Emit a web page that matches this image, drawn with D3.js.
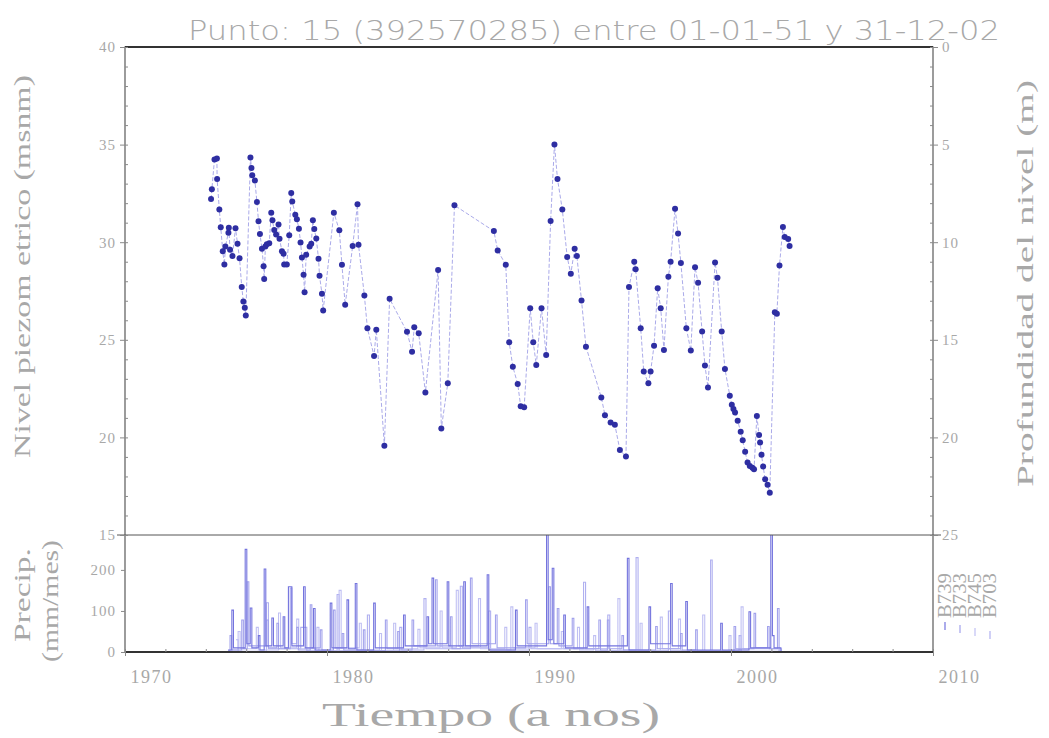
<!DOCTYPE html>
<html>
<head>
<meta charset="utf-8">
<script src="https://cdn.jsdelivr.net/npm/d3@7"></script>
<style>
body{margin:0;background:#fff;}
text{font-family:"Liberation Serif",serif;fill:#a8a8a8;}
.titulo{font-family:"DejaVu Sans",sans-serif;font-weight:200;}
</style>
</head>
<body>
<div class="grafico"></div>
<script>
// nivel piezometrico: fecha (anio decimal) y nivel (msnm)
var anios = [1974.26,1974.30,1974.43,1974.55,1974.56,1974.67,1974.74,1974.84,1974.92,1974.97,
	1975.12,1975.14,1975.20,1975.32,1975.47,1975.57,1975.67,1975.78,1975.86,1975.93,1975.98,
	1976.21,1976.26,1976.30,1976.43,1976.53,1976.61,1976.68,1976.78,1976.86,1976.89,1976.95,
	1977.02,1977.14,1977.24,1977.30,1977.39,1977.48,1977.60,1977.65,1977.77,1977.85,1977.88,
	1978.01,1978.13,1978.23,1978.28,1978.43,1978.51,1978.61,1978.69,1978.76,1978.84,1978.89,1978.97,
	1979.14,1979.22,1979.30,1979.37,1979.47,1979.58,1979.63,1979.75,1979.81,
	1980.34,1980.61,1980.74,1980.90,1981.27,1981.51,1981.56,1981.85,1982.00,1982.33,1982.44,1982.84,
	1983.10,1983.96,1984.21,1984.32,1984.54,1984.87,1985.50,1985.66,1985.98,1986.31,
	1988.26,1988.45,1988.85,1989.02,1989.20,1989.44,1989.59,1989.76,
	1990.06,1990.21,1990.36,1990.62,1990.85,1991.07,1991.26,1991.41,1991.65,1991.89,
	1992.07,1992.26,1992.37,1992.60,1992.82,1993.58,1993.76,1994.04,1994.25,1994.50,1994.80,1994.95,
	1995.21,1995.28,1995.53,1995.68,1995.91,1996.02,1996.19,1996.37,1996.52,1996.68,1996.90,
	1997.01,1997.23,1997.38,1997.52,1997.79,1998.01,1998.22,1998.37,1998.57,1998.71,1998.86,
	1999.21,1999.33,1999.54,1999.70,1999.94,2000.04,2000.12,2000.20,2000.33,2000.48,2000.58,2000.70,2000.82,2000.93,
	2001.06,2001.14,2001.28,2001.39,2001.44,2001.51,2001.59,2001.69,2001.81,2001.92,
	2002.17,2002.27,2002.40,2002.57,2002.66,2002.83,2002.90];
var niveles = [32.21,32.71,34.24,34.29,33.24,31.67,30.76,29.53,28.86,29.78,
	30.49,30.74,29.61,29.29,30.72,29.92,29.18,27.70,26.96,26.64,26.24,
	34.34,33.80,33.43,33.16,32.06,31.07,30.42,29.67,28.77,28.11,29.78,
	29.89,29.95,31.51,31.12,30.62,30.39,30.91,30.18,29.53,29.41,28.86,
	28.86,30.35,32.52,32.09,31.41,31.17,30.69,29.99,29.22,28.33,27.44,29.36,
	29.78,29.92,31.12,30.67,30.19,29.15,28.28,27.36,26.50,
	31.51,30.61,28.84,26.79,29.80,31.94,29.87,27.27,25.59,24.17,25.52,19.57,
	27.10,25.41,24.39,25.64,25.33,22.30,28.57,20.46,22.77,31.89,
	30.57,29.58,28.84,24.87,23.62,22.74,21.59,21.54,
	26.62,24.87,23.71,26.62,24.22,31.08,35.01,33.24,31.67,29.24,
	28.38,29.67,29.29,27.01,24.65,22.05,21.14,20.76,20.65,19.35,19.02,27.70,
	29.00,28.62,25.59,23.38,22.77,23.38,24.70,27.64,26.62,24.48,28.23,
	29.00,31.72,30.44,28.93,25.59,24.45,28.72,27.92,25.42,23.68,22.56,
	28.96,28.18,25.42,23.51,22.14,21.67,21.45,21.28,20.85,20.29,19.86,19.26,18.71,18.54,
	18.45,18.37,21.09,20.12,19.74,19.11,18.51,17.86,17.57,17.17,
	26.41,26.33,28.81,30.78,30.26,30.16,29.80];

// precipitacion mensual (mm/mes) por estacion: [anio, valor] escalonado
var b739 = [[1975.10,5],[1975.29,102],[1975.37,10],[1975.95,250],[1976.03,20],[1976.20,107],[1976.28,10],
	[1976.60,40],[1976.68,5],[1976.89,202],[1976.97,15],[1977.27,83],[1977.35,15],[1977.83,86],[1977.91,10],
	[1978.09,159],[1978.26,15],[1978.84,159],[1978.92,10],[1979.33,106],[1979.41,5],[1980.16,119],[1980.24,10],
	[1980.99,127],[1981.07,8],[1981.40,167],[1981.48,5],[1982.31,119],[1982.39,10],[1983.79,90],[1983.87,15],
	[1984.95,86],[1985.03,20],[1985.20,180],[1985.28,20],[1985.95,171],[1986.03,15],[1986.77,171],[1986.85,15],
	[1987.93,188],[1988.01,5],[1989.33,102],[1989.41,15],[1990.87,300],[1990.95,30],[1991.15,204],[1991.23,20],
	[1991.72,90],[1991.80,10],[1992.88,110],[1992.96,15],[1994.87,228],[1994.95,5],[1995.94,110],[1996.02,20],
	[1997.01,167],[1997.09,15],[1997.76,123],[1997.84,5],[1999.49,70],[1999.57,5],[2000.89,98],[2000.97,10],
	[2001.97,300],[2002.05,40],[2002.13,10],[2002.47,0]];
var b733 = [[1975.10,3],[1975.20,40],[1975.28,5],[1975.78,78],[1975.86,8],[1976.05,171],[1976.13,15],[1977.02,78],
	[1977.10,10],[1977.52,70],[1977.60,8],[1978.18,156],[1978.26,20],[1978.50,60],[1978.58,5],[1979.17,115],
	[1979.25,10],[1979.67,54],[1979.75,5],[1980.32,102],[1980.40,10],[1980.75,45],[1980.83,5],[1981.80,54],
	[1981.88,3],[1982.89,78],[1982.97,8],[1983.50,50],[1983.58,5],[1984.21,78],[1984.29,15],[1985.37,176],
	[1985.45,15],[1986.11,86],[1986.19,8],[1987.10,180],[1987.18,20],[1988.34,90],[1988.42,10],[1989.83,127],
	[1989.91,20],[1990.98,159],[1991.06,20],[1991.40,106],[1991.48,15],[1992.14,82],[1992.22,8],[1993.46,78],
	[1993.54,5],[1993.88,78],[1993.96,8],[1994.60,40],[1994.68,5],[1996.27,62],[1996.35,8],[1997.50,45],
	[1997.58,5],[1998.25,54],[1998.33,3],[2000.15,62],[2000.23,8],[2001.14,94],[2001.22,10],[2001.81,62],
	[2001.89,8],[2002.30,106],[2002.38,0]];
var b745 = [[1975.3,5],[1975.6,50],[1975.7,8],[1976.5,60],[1976.6,5],[1977.6,95],[1977.7,10],[1978.5,80],[1978.6,8],
	[1979.5,60],[1979.6,3],[1980.6,150],[1980.7,10],[1981.6,70],[1981.7,5],[1982.6,45],[1982.7,3],[1983.3,70],
	[1983.4,8],[1984.5,55],[1984.6,10],[1985.6,100],[1985.7,10],[1986.4,150],[1986.5,15],[1987.5,130],[1987.6,8],
	[1988.8,60],[1988.9,5],[1989.1,110],[1989.2,10],[1990.3,70],[1990.4,8],[1991.6,50],[1991.7,8],[1992.4,60],
	[1992.5,5],[1993.2,40],[1993.3,3],[1994.4,130],[1994.5,5],[1995.5,70],[1995.6,3],[1996.5,85],[1996.6,8],
	[1997.4,80],[1997.5,3],[1998.6,90],[1998.7,3],[1999.9,40],[2000.0,2],[2000.5,110],[2000.6,8],[2002.5,0]];
var b703 = [[1975.5,30],[1975.6,2],[1977.0,120],[1977.1,8],[1978.7,60],[1979.0,3],[1980.5,140],[1980.6,3],
	[1982.0,90],[1982.1,3],[1983.6,60],[1983.7,5],[1984.8,130],[1984.9,8],[1986.6,160],[1986.7,10],[1988.0,100],
	[1988.1,5],[1990.0,60],[1990.1,8],[1992.7,170],[1992.8,8],[1993.9,90],[1994.0,3],[1995.3,230],[1995.4,3],
	[1996.9,100],[1997.0,3],[1998.99,224],[1999.07,3],[2000.4,40],[2000.5,2],[2002.5,0]];

var estaciones = ["B739","B733","B745","B703"];
var aniosEje = [1970,1980,1990,2000,2010];
var nivelTicks = [15,20,25,30,35,40];
var profTicks = [0,5,10,15,20,25];
var precipTicks = [0,100,200];

document.addEventListener("DOMContentLoaded", dibujar);
if (document.readyState !== "loading") dibujar();

function dibujar(){
	if (dibujar.hecho) return;
	dibujar.hecho = true;
	var ancho = 1049, alto = 738;
	var izq = 125, der = 933, arriba = 47, corte = 535, abajo = 652;

	var svg = d3.select(".grafico").append("svg")
		.attr("width", ancho)
		.attr("height", alto);
	svg.append("rect").attr("width", ancho).attr("height", alto).attr("fill", "#fff");

	var x = d3.scaleLinear().domain([1970, 2010]).range([izq, der]);
	var yNivel = d3.scaleLinear().domain([15, 40]).range([corte, arriba]);
	var yProf = d3.scaleLinear().domain([25, 0]).range([corte, arriba]);
	var yPrecip = d3.scaleLinear().domain([0, 285]).range([abajo, corte]);

	// precipitacion (panel inferior)
	var colores = ["#7474de", "#a2a2ec", "#c0c0f3", "#b0b0f0"];
	var series = [b739, b733, b745, b703];
	svg.append("clipPath").attr("id", "recorte")
		.append("rect").attr("x", izq).attr("y", corte).attr("width", der - izq).attr("height", abajo - corte);
	var lineaPrecip = d3.line()
		.x(function(d){ return x(d[0]); })
		.y(function(d){ return yPrecip(d[1]); })
		.curve(d3.curveStepAfter);
	var gp = svg.append("g").attr("clip-path", "url(#recorte)");
	[3, 2, 1, 0].forEach(function(i){
		gp.append("path")
			.attr("d", lineaPrecip(series[i]))
			.attr("fill", "none")
			.attr("stroke", colores[i])
			.attr("stroke-width", 1.1);
	});

	// linea de niveles
	var puntos = anios.map(function(a, i){ return [a, niveles[i]]; });
	var lineaNivel = d3.line()
		.x(function(d){ return x(d[0]); })
		.y(function(d){ return yNivel(d[1]); });
	svg.append("path")
		.attr("d", lineaNivel(puntos))
		.attr("fill", "none")
		.attr("stroke", "#a0a0e6")
		.attr("stroke-width", 0.9)
		.attr("stroke-dasharray", "4,2");
	svg.append("g").selectAll("circle")
		.data(puntos)
		.enter()
		.append("circle")
		.attr("cx", function(d){ return x(d[0]); })
		.attr("cy", function(d){ return yNivel(d[1]); })
		.attr("r", 3)
		.attr("fill", "#2e2ea2");

	// marco
	svg.append("rect")
		.attr("x", izq).attr("y", arriba)
		.attr("width", der - izq).attr("height", abajo - arriba)
		.attr("fill", "none").attr("stroke", "#5a5a5a").attr("stroke-width", 1.2);
	svg.append("line").attr("x1", izq).attr("x2", der).attr("y1", arriba).attr("y2", arriba)
		.attr("stroke", "#333").attr("stroke-width", 2);
	svg.append("line").attr("x1", izq).attr("x2", der).attr("y1", abajo).attr("y2", abajo)
		.attr("stroke", "#333").attr("stroke-width", 2);
	svg.append("line").attr("x1", izq - 8).attr("x2", der + 8).attr("y1", corte).attr("y2", corte)
		.attr("stroke", "#555").attr("stroke-width", 1);

	// ejes
	svg.append("g").attr("transform", "translate(" + izq + ",0)")
		.call(d3.axisLeft(yNivel).tickValues(nivelTicks).tickSize(5).tickPadding(4));
	svg.append("g").attr("transform", "translate(" + der + ",0)")
		.call(d3.axisRight(yProf).tickValues(profTicks).tickSize(5).tickPadding(4));
	svg.append("g").attr("transform", "translate(" + izq + ",0)")
		.call(d3.axisLeft(yPrecip).tickValues(precipTicks).tickSize(4).tickPadding(5));
	var ejeX = svg.append("g").attr("transform", "translate(0," + abajo + ")")
		.call(d3.axisBottom(x).tickValues(aniosEje).tickFormat(d3.format("d")).tickSize(4).tickPadding(14));

	// marcas menores hacia dentro
	svg.append("g").attr("transform", "translate(" + izq + ",0)")
		.call(d3.axisRight(yNivel).ticks(25).tickSize(3).tickFormat(""));
	svg.append("g").attr("transform", "translate(" + der + ",0)")
		.call(d3.axisLeft(yProf).ticks(25).tickSize(3).tickFormat(""));
	svg.append("g").attr("transform", "translate(0," + abajo + ")")
		.call(d3.axisTop(x).ticks(20).tickSize(3).tickFormat(""));

	svg.selectAll(".domain").remove();
	svg.selectAll(".tick line").attr("stroke", "#8a8a8a");
	svg.selectAll(".tick text")
		.style("font-family", "Liberation Serif, serif")
		.style("font-size", "15px")
		.style("letter-spacing", "1px")
		.attr("fill", "#a0a0a0");
	ejeX.selectAll("text")
		.attr("text-anchor", "start").attr("dx", 5)
		.style("font-size", "18px")
		.style("letter-spacing", "1.5px");

	// textos
	svg.append("text").attr("class", "titulo")
		.attr("x", 188).attr("y", 40)
		.attr("textLength", 812).attr("lengthAdjust", "spacingAndGlyphs")
		.style("font-size", "27px")
		.attr("fill", "#9c9c9c")
		.text("Punto: 15 (392570285) entre 01-01-51 y 31-12-02");
	svg.append("text")
		.attr("x", 322).attr("y", 726)
		.attr("textLength", 338).attr("lengthAdjust", "spacingAndGlyphs")
		.style("font-size", "33px")
		.text("Tiempo (a nos)");
	svg.append("text")
		.attr("transform", "translate(30,458) rotate(-90)")
		.attr("textLength", 383).attr("lengthAdjust", "spacingAndGlyphs")
		.style("font-size", "23px")
		.text("Nivel piezom etrico (msnm)");
	svg.append("text")
		.attr("transform", "translate(1033,487) rotate(-90)")
		.attr("textLength", 407).attr("lengthAdjust", "spacingAndGlyphs")
		.style("font-size", "23px")
		.text("Profundidad del nivel (m)");
	svg.append("text")
		.attr("transform", "translate(30,642) rotate(-90)")
		.attr("textLength", 94).attr("lengthAdjust", "spacingAndGlyphs")
		.style("font-size", "23px")
		.text("Precip.");
	svg.append("text")
		.attr("transform", "translate(58,662) rotate(-90)")
		.attr("textLength", 122).attr("lengthAdjust", "spacingAndGlyphs")
		.style("font-size", "23px")
		.text("(mm/mes)");

	// leyenda
	var leyenda = svg.append("g").selectAll("g")
		.data(estaciones)
		.enter()
		.append("g")
		.attr("transform", function(d, i){ return "translate(" + (951 + i * 15) + ",0)"; });
	leyenda.append("text")
		.attr("transform", "translate(0,618) rotate(-90)")
		.attr("textLength", 45).attr("lengthAdjust", "spacingAndGlyphs")
		.style("font-size", "18px")
		.text(function(d){ return d; });
	leyenda.append("line")
		.attr("x1", -6).attr("x2", -6)
		.attr("y1", function(d, i){ return 622 + i * 3; })
		.attr("y2", function(d, i){ return 630 + i * 3; })
		.attr("stroke", function(d, i){ return colores[i]; })
		.attr("stroke-width", 1.2);
}
</script>
</body>
</html>
